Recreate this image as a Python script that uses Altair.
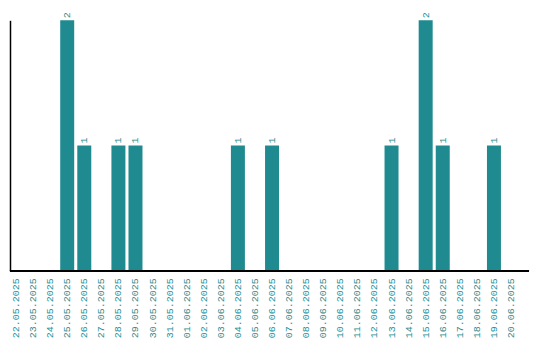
import altair as alt
import pandas as pd

dates = [
    "22.05.2025", "23.05.2025", "24.05.2025", "25.05.2025", "26.05.2025",
    "27.05.2025", "28.05.2025", "29.05.2025", "30.05.2025", "31.05.2025",
    "01.06.2025", "02.06.2025", "03.06.2025", "04.06.2025", "05.06.2025",
    "06.06.2025", "07.06.2025", "08.06.2025", "09.06.2025", "10.06.2025",
    "11.06.2025", "12.06.2025", "13.06.2025", "14.06.2025", "15.06.2025",
    "16.06.2025", "17.06.2025", "18.06.2025", "19.06.2025", "20.06.2025",
]
counts = [0, 0, 0, 2, 1, 0, 1, 1, 0, 0,
          0, 0, 0, 1, 0, 1, 0, 0, 0, 0,
          0, 0, 1, 0, 2, 1, 0, 0, 1, 0]

COLOR = "#1f8b90"
FONT = "Liberation Mono"

df = pd.DataFrame({"date": dates, "count": counts})

x = alt.X("date:N", sort=dates, title=None,
          scale=alt.Scale(range=[-1, 509], paddingInner=0.18, paddingOuter=0),
          axis=alt.Axis(labelAngle=270, labelColor=COLOR, labelFont=FONT,
                        labelFontSize=10, ticks=False, domain=False,
                        labelPadding=7, labelAlign="right", labelBaseline="middle"))
y = alt.Y("count:Q", title=None, scale=alt.Scale(domain=[0, 2], nice=False),
          axis=alt.Axis(labels=False, ticks=False, grid=False, domainColor="black"))

bars = alt.Chart(df).mark_bar(color=COLOR).encode(x=x, y=y)
text = alt.Chart(df).transform_filter("datum.count > 0").mark_text(
    angle=270, align="left", baseline="middle", dx=2, color=COLOR,
    font=FONT, fontSize=10
).encode(x=x, y=y, text="count:Q")
baseline = alt.Chart(df).mark_rule(color="black", strokeWidth=1.5).encode(
    y=alt.datum(0), x=alt.value(0), x2=alt.value(520)
)

chart = (bars + text + baseline).properties(
    width=520, height=251,
    padding={"left": 1, "top": 3, "right": 2, "bottom": 2},
).configure_view(stroke=None).configure_axis(domainWidth=1.5)

chart.save("out.html", embed_options={"renderer": "svg", "actions": False})
